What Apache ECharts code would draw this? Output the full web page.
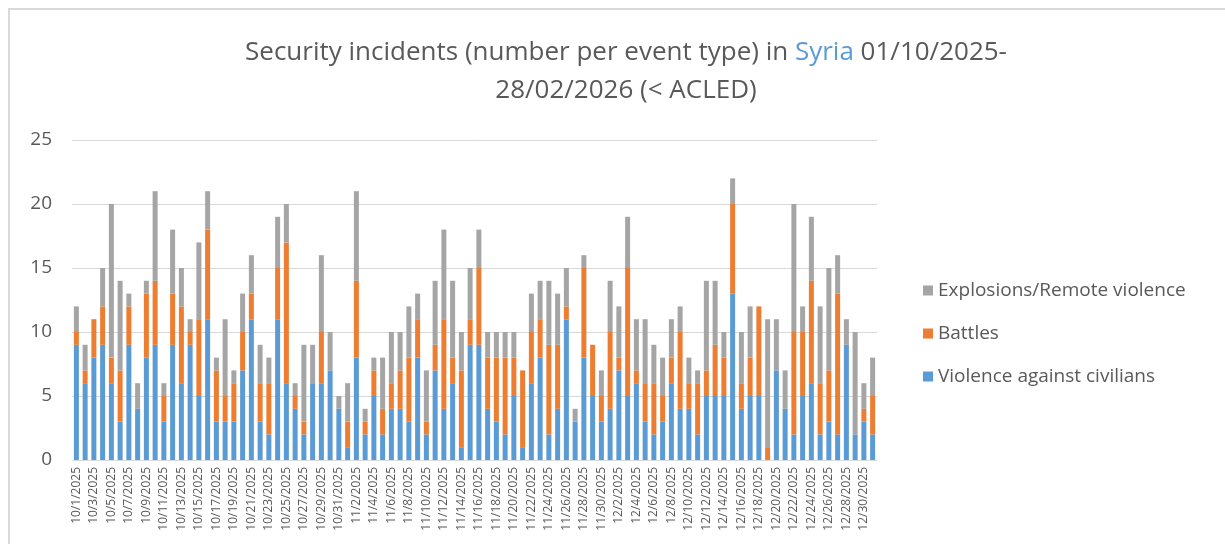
<!DOCTYPE html>
<html>
<head>
<meta charset="utf-8">
<script src="https://cdn.jsdelivr.net/npm/echarts@6/dist/echarts.min.js"></script>
<style>
  html, body { margin: 0; padding: 0; background: #fff; }
  #frame {
    position: absolute; left: 8px; top: 8px; width: 1300px; height: 600px;
    border-top: 2px solid #d9d9d9; border-left: 2px solid #d9d9d9;
  }
  #chart { position: absolute; left: 0; top: 0; width: 1225px; height: 544px; }
</style>
</head>
<body>
<div id="frame"></div>
<div id="chart"></div>
<script>
// daily counts, 1 Oct - 31 Dec 2025
const civilians = [
  9, 6, 8, 9, 6, 3, 9, 4, 8, 9, 3, 9, 6, 9, 5, 11, 3, 3, 3, 7, 11, 3, 2, 11, 6, 4, 2, 6, 6, 7, 4,
  1, 8, 2, 5, 2, 4, 4, 3, 8, 2, 7, 4, 6, 1, 9, 9, 4, 3, 2, 5, 1, 6, 8, 2, 4, 11, 3, 8, 5, 3,
  4, 7, 5, 6, 3, 2, 3, 6, 4, 4, 2, 5, 5, 5, 13, 4, 5, 5, 0, 7, 4, 2, 5, 6, 2, 3, 2, 9, 2, 3, 2
]
const battles = [
  1, 1, 3, 3, 2, 4, 3, 0, 5, 5, 2, 4, 6, 1, 6, 7, 4, 2, 3, 3, 2, 3, 4, 4, 11, 1, 1, 0, 4, 0, 0,
  2, 6, 1, 2, 2, 2, 3, 5, 3, 1, 2, 7, 2, 6, 2, 6, 4, 5, 6, 3, 6, 4, 3, 7, 5, 1, 0, 7, 4, 2,
  6, 1, 10, 1, 3, 4, 2, 2, 6, 2, 4, 2, 4, 3, 7, 2, 3, 7, 1, 0, 0, 8, 5, 8, 4, 4, 11, 0, 0, 1, 3
]
const explosions = [
  2, 2, 0, 3, 12, 7, 1, 2, 1, 7, 1, 5, 3, 1, 6, 3, 1, 6, 1, 3, 3, 3, 2, 4, 3, 1, 6, 3, 6, 3, 1,
  3, 7, 1, 1, 4, 4, 3, 4, 2, 4, 5, 7, 6, 3, 4, 3, 2, 2, 2, 2, 0, 3, 3, 5, 4, 3, 1, 1, 0, 2,
  4, 4, 4, 4, 5, 3, 3, 3, 2, 2, 1, 7, 5, 2, 2, 4, 4, 0, 10, 4, 3, 10, 2, 5, 6, 8, 3, 2, 8, 2, 3
]

const dates = []
for (let m = 10; m <= 12; m++) {
  const days = m === 11 ? 30 : 31
  for (let d = 1; d <= days; d++) dates.push(m + '/' + d + '/2025')
}

const legendNames = ['Explosions/Remote violence', 'Battles', 'Violence against civilians']
const textColor = '#595959'
const font = 'Open Sans'

const myChart = echarts.init(document.getElementById('chart'))

const bar = (name, data, color) => ({
  name: name,
  type: 'bar',
  stack: 'total',
  barWidth: 5,
  itemStyle: { color: color },
  data: data,
})

const option = {
  animation: false,
  title: {
    text: 'Security incidents (number per event type) in {b|Syria} 01/10/2025-\n28/02/2026 (< ACLED)',
    left: 621,
    textAlign: 'center',
    top: 29,
    textStyle: {
      fontFamily: font,
      fontSize: 26,
      fontWeight: 'normal',
      color: textColor,
      lineHeight: 38,
      rich: {
        b: { fontFamily: font, fontSize: 26, color: '#5b9bd5', lineHeight: 38 },
      },
    },
  },
  legend: {
    orient: 'vertical',
    left: 918,
    top: 276,
    itemWidth: 10,
    itemHeight: 10,
    itemGap: 24,
    icon: 'rect',
    data: legendNames,
    textStyle: { fontFamily: font, fontSize: 19, color: textColor },
  },
  grid: { left: 72, right: 348, top: 140, bottom: 84 },
  xAxis: {
    type: 'category',
    data: dates,
    axisLine: { lineStyle: { color: '#d9d9d9', width: 1 } },
    axisTick: { show: false },
    axisLabel: {
      interval: 1,
      rotate: 90,
      fontFamily: font,
      fontSize: 12,
      color: textColor,
      margin: 7,
    },
  },
  yAxis: {
    type: 'value',
    min: 0,
    max: 25,
    interval: 5,
    axisLine: { show: false },
    axisTick: { show: false },
    axisLabel: { fontFamily: font, fontSize: 19, color: textColor, margin: 20 },
    splitLine: { lineStyle: { color: '#d9d9d9', width: 1 } },
  },
  series: [
    bar('Violence against civilians', civilians, '#5b9bd5'),
    bar('Battles', battles, '#ed7d31'),
    bar('Explosions/Remote violence', explosions, '#a5a5a5'),
  ],
}

myChart.setOption(option)
window.onresize = function () {
  myChart.resize()
}
</script>
</body>
</html>
